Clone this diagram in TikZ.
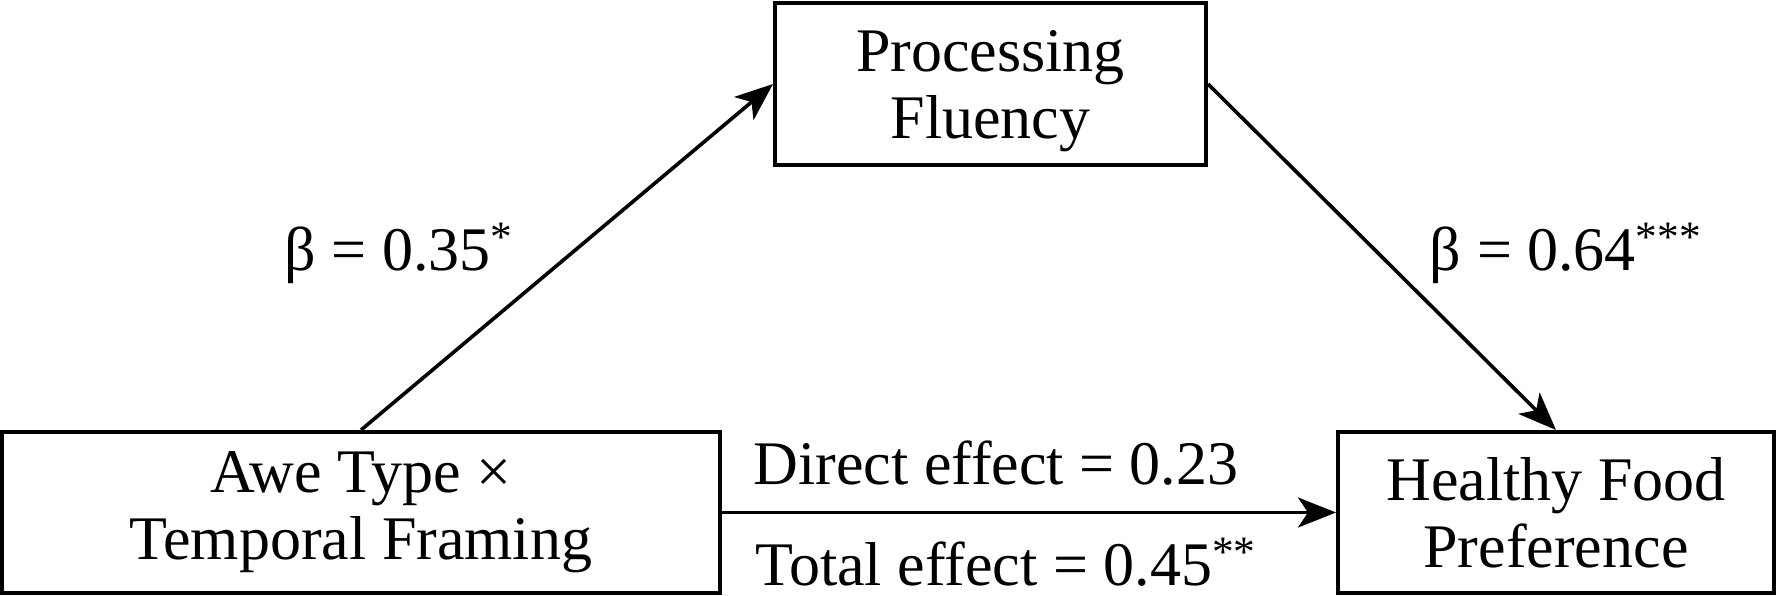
\documentclass[tikz,border=0pt]{standalone}
\usepackage{fontspec}
\setmainfont{Liberation Serif}
\usetikzlibrary{arrows.meta}
\begin{document}
\begin{tikzpicture}[x=0.5pt,y=-0.5pt,
  every node/.style={font=\fontsize{31pt}{33.5pt}\selectfont},
  varbox/.style={draw, line width=2pt, rectangle, align=center, inner sep=0pt},
  lbl/.style={anchor=base, inner sep=0pt},
  arr/.style={line width=1.8pt, -{Stealth[length=19pt, width=15pt, inset=5pt]}}]
\useasboundingbox (0,0) rectangle (1776,595);
\node[varbox, minimum width=359pt, minimum height=80.5pt] (A) at (361,512.5) {Awe Type ×\\Temporal Framing};
\node[varbox, minimum width=215.5pt, minimum height=81pt] (P) at (990.5,84) {\rule{0pt}{28pt}Processing\\Fluency};
\node[varbox, minimum width=218pt, minimum height=80.5pt] (H) at (1556,512.5) {Healthy Food\\Preference};
\draw[arr] (A.north) -- (P.west);
\draw[arr] (P.east) -- (H.north);
\draw[arr] (A.east) -- (H.west);
\node[lbl] (b1) at (399,270) {β = 0.35\textsuperscript{*}};
\node[lbl] (b2) at (1566,270) {β = 0.64\textsuperscript{***}};
\node[lbl] (de) at (996,484) {Direct effect = 0.23};
\node[lbl] (te) at (1006,585) {Total effect = 0.45\textsuperscript{**}};
\end{tikzpicture}
\end{document}
